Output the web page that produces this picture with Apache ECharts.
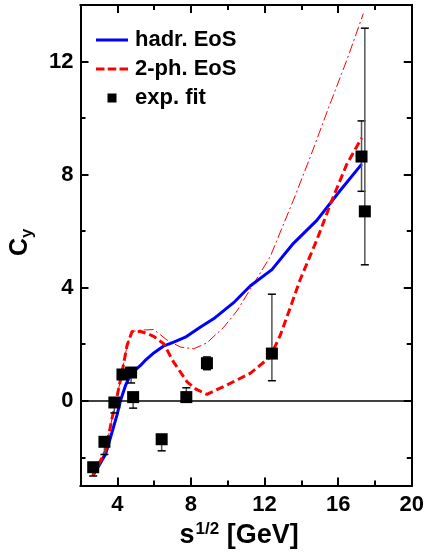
<!DOCTYPE html>
<html><head><meta charset="utf-8">
<script src="https://cdn.jsdelivr.net/npm/echarts@6/dist/echarts.min.js"></script>
<style>html,body{margin:0;padding:0;background:#fff}#c{width:427px;height:554px}</style>
</head><body><div id="c"></div>
<script>
// hadronic EoS curve
const hadrX = [2.67, 3.0, 3.36, 3.63, 3.99, 4.17, 4.45, 4.71, 5.0, 5.26, 5.5, 6.0, 6.5, 7.0, 7.7, 8.5, 9.23, 10.32, 11.22, 12.4, 13.57, 14.84, 16.1, 17.28];
const hadrY = [-2.65, -2.3, -1.89, -1.3, -0.49, 0.0, 0.55, 0.91, 1.1, 1.25, 1.42, 1.7, 1.93, 2.06, 2.25, 2.6, 2.9, 3.47, 4.06, 4.64, 5.57, 6.38, 7.43, 8.37];
// two-phase EoS curve (dashed)
const twoPhX = [2.67, 3.36, 3.72, 4.0, 4.26, 4.53, 4.8, 5.26, 5.62, 6.0, 6.52, 7.06, 7.79, 8.3, 8.87, 9.96, 11.22, 12.3, 12.85, 13.4, 13.94, 14.84, 15.66, 16.47, 17.28];
const twoPhY = [-2.65, -1.77, -0.6, 0.2, 1.02, 1.96, 2.45, 2.45, 2.38, 2.27, 2.02, 1.37, 0.67, 0.4, 0.23, 0.56, 0.97, 1.55, 2.31, 3.3, 4.29, 5.69, 7.09, 8.37, 9.3];
// thin dash-dotted curve
const thinX = [2.67, 3.36, 3.72, 4.0, 4.26, 4.53, 4.8, 5.26, 5.98, 6.7, 7.43, 8.15, 8.87, 9.78, 10.5, 11.22, 12.31, 13.57, 14.5, 15.5, 16.5, 17.37];
const thinY = [-2.65, -1.77, -0.6, 0.2, 1.02, 1.96, 2.45, 2.5, 2.52, 2.15, 1.9, 1.84, 2.05, 2.6, 3.18, 3.94, 5.1, 7.1, 8.65, 10.4, 12.1, 13.7];
// experimental fit points with error bar ends
const expX  = [2.69, 3.3, 3.84, 4.28, 4.75, 4.86, 6.41, 7.75, 8.87, 12.4, 17.27, 17.45];
const expY  = [-2.35, -1.45, -0.06, 0.93, 1.0, 0.13, -1.36, 0.13, 1.33, 1.67, 8.64, 6.7];
const errLo = [-2.66, -1.9, -0.43, 0.93, 0.63, -0.26, -1.77, 0.13, 1.1, 0.71, 7.41, 4.81];
const errHi = [-2.35, -1.45, -0.06, 0.93, 1.0, 0.13, -1.36, 0.46, 1.55, 3.77, 9.9, 13.18];
// ticks
const xMajor = [4, 8, 12, 16, 20];
const xMinor = [6, 10, 14, 18];
const yMajor = [0, 4, 8, 12];
const yMinor = [-2, 2, 6, 10];

const FONT = '"Liberation Sans", Arial, sans-serif';
const zip = (a, b) => a.map((v, i) => [v, b[i]]);

function xAxisDef(pos, ticks, len, labels, extra) {
  return Object.assign({
    type: 'value', min: 2, max: 20, position: pos, gridIndex: 0,
    axisLine: { show: true, onZero: false, lineStyle: { color: '#000', width: 2 } },
    axisTick: { show: true, inside: true, length: len, customValues: ticks, lineStyle: { color: '#000', width: 2 } },
    axisLabel: labels ? { show: true, customValues: ticks, margin: 8, color: '#000', fontSize: 22, fontWeight: 'bold', fontFamily: FONT } : { show: false },
    splitLine: { show: false }
  }, extra || {});
}
function yAxisDef(pos, ticks, len, labels, extra) {
  return Object.assign({
    type: 'value', min: -3, max: 14, position: pos, gridIndex: 0,
    axisLine: { show: true, onZero: false, lineStyle: { color: '#000', width: 2 } },
    axisTick: { show: true, inside: true, length: len, customValues: ticks, lineStyle: { color: '#000', width: 2 } },
    axisLabel: labels ? { show: true, customValues: ticks, margin: 7, color: '#000', fontSize: 22, fontWeight: 'bold', fontFamily: FONT } : { show: false },
    splitLine: { show: false }
  }, extra || {});
}

const chart = echarts.init(document.getElementById('c'), null, { renderer: 'canvas' });
chart.setOption({
  animation: false,
  backgroundColor: '#fff',
  grid: { left: 80, right: 15, top: 5, bottom: 62, containLabel: false },
  legend: {
    orient: 'vertical', left: 91, top: 24,
    itemWidth: 32, itemHeight: 9, itemGap: 7,
    symbolKeepAspect: true,
    itemStyle: { borderWidth: 0 },
    textStyle: { fontSize: 22, fontWeight: 'bold', fontFamily: FONT, color: '#000', lineHeight: 22, padding: [0, 0, 0, 2] },
    data: [
      { name: 'hadr. EoS', icon: 'path://M0,0h32v3h-32z' },
      { name: '2-ph. EoS', icon: 'path://M0,0h8.5v3h-8.5z M11.75,0h8.5v3h-8.5z M23.5,0h8.5v3h-8.5z' },
      { name: 'exp. fit', icon: 'path://M0,0h10v10h-10z' }
    ]
  },
  xAxis: [
    xAxisDef('bottom', xMajor, 8, true, {
      name: '{b|s}{sup|1/2}{b| [GeV]}', nameLocation: 'middle', nameGap: 33,
      nameTextStyle: { padding: [0, 14, 0, 0], rich: {
        b: { fontSize: 27, fontWeight: 'bold', fontFamily: FONT, color: '#000', lineHeight: 30 },
        sup: { fontSize: 17, fontWeight: 'bold', fontFamily: FONT, color: '#000', lineHeight: 30, verticalAlign: 'top', padding: [0, 0, 0, 1] }
      } }
    }),
    xAxisDef('bottom', xMinor, 5, false),
    xAxisDef('top', xMajor, 8, false),
    xAxisDef('top', xMinor, 5, false)
  ],
  yAxis: [
    yAxisDef('left', yMajor, 8, true, {
      name: '{c|C}{sub|y}', nameLocation: 'middle', nameGap: 45, nameRotate: 90,
      nameTextStyle: { padding: [0, 0, 0, 6], rich: {
        c: { fontSize: 25, fontWeight: 'bold', fontFamily: FONT, color: '#000', lineHeight: 30 },
        sub: { fontSize: 17, fontWeight: 'bold', fontFamily: FONT, color: '#000', lineHeight: 30, verticalAlign: 'bottom' }
      } }
    }),
    yAxisDef('left', yMinor, 5, false),
    yAxisDef('right', yMajor, 8, false),
    yAxisDef('right', yMinor, 5, false)
  ],
  series: [
    {
      name: 'thin', type: 'line', xAxisIndex: 0, yAxisIndex: 0, data: zip(thinX, thinY),
      symbol: 'none', color: '#ff0000', z: 2,
      lineStyle: { color: '#ff0000', width: 1, type: [10, 3, 2, 3] }
    },
    {
      name: 'hadr. EoS', type: 'line', xAxisIndex: 0, yAxisIndex: 0, data: zip(hadrX, hadrY),
      symbol: 'none', color: '#0000ff', z: 3,
      lineStyle: { color: '#0000ff', width: 3 }
    },
    {
      name: '2-ph. EoS', type: 'line', xAxisIndex: 0, yAxisIndex: 0, data: zip(twoPhX, twoPhY),
      symbol: 'none', color: '#ff0000', z: 4,
      lineStyle: { color: '#ff0000', width: 3, type: [8, 4] }
    },
    {
      name: 'errors', type: 'custom', xAxisIndex: 0, yAxisIndex: 0, z: 5,
      data: expX.map((x, i) => [x, errLo[i], errHi[i], expY[i]]),
      encode: { x: 0, y: [1, 2] },
      renderItem: function (params, api) {
        const x = api.value(0), lo = api.value(1), hi = api.value(2), y = api.value(3);
        const p1 = api.coord([x, lo]), p2 = api.coord([x, hi]);
        const ch = [];
        ch.push({ type: 'line', shape: { x1: p1[0], y1: p1[1], x2: p2[0], y2: p2[1] }, style: { stroke: '#555', lineWidth: 1.5 } });
        const w = 4;
        if (lo < y) ch.push({ type: 'line', shape: { x1: p1[0] - w, y1: p1[1], x2: p1[0] + w, y2: p1[1] }, style: { stroke: '#000', lineWidth: 1.5 } });
        if (hi > y) ch.push({ type: 'line', shape: { x1: p2[0] - w, y1: p2[1], x2: p2[0] + w, y2: p2[1] }, style: { stroke: '#000', lineWidth: 1.5 } });
        return { type: 'group', children: ch };
      }
    },
    {
      name: 'exp. fit', type: 'scatter', xAxisIndex: 0, yAxisIndex: 0, data: zip(expX, expY),
      symbol: 'rect', symbolSize: 12, color: '#000', z: 6,
      itemStyle: { color: '#000', opacity: 1 },
      markLine: {
        silent: true, symbol: ['none', 'none'], label: { show: false },
        lineStyle: { color: '#000', width: 1.5, type: 'solid', opacity: 1 },
        data: [{ yAxis: 0 }]
      }
    }
  ]
});
</script>
</body></html>
